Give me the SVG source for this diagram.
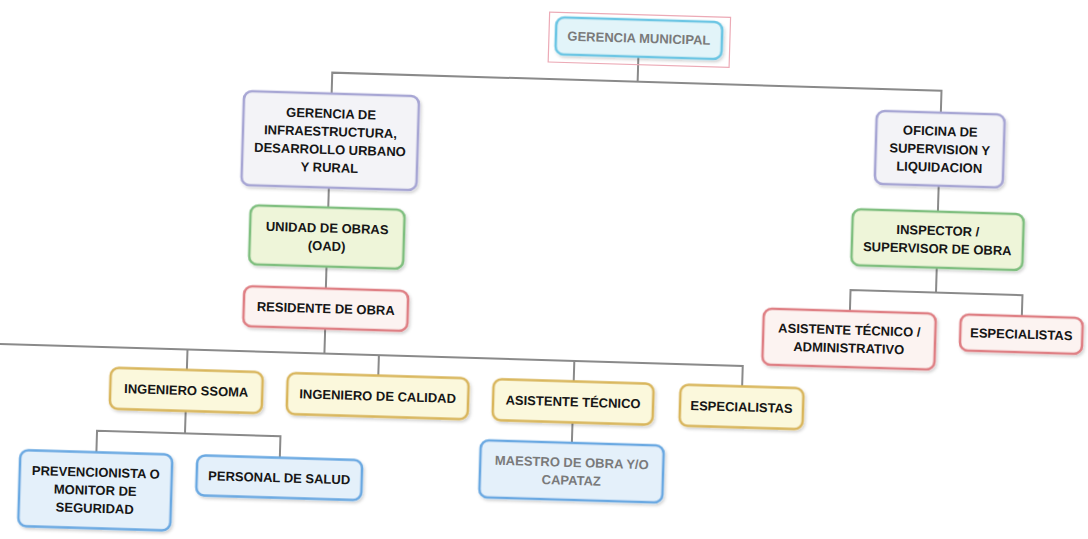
<svg xmlns="http://www.w3.org/2000/svg" width="1088" height="539" viewBox="0 0 1088 539">
<defs>
<filter id="sh" x="-10%" y="-10%" width="125%" height="135%">
<feDropShadow dx="1.5" dy="2" stdDeviation="1.5" flood-color="#000" flood-opacity="0.18"/>
</filter>
</defs>
<style>
.box{stroke-width:2.6;filter:url(#sh)}
.lav{fill:#f3f3f7;stroke:#a7a6d4}
.cyan{fill:#e2f4f9;stroke:#6cc6e4}
.grn{fill:#eef5d9;stroke:#7fbf7f}
.red{fill:#fcf3f1;stroke:#df7f84}
.yel{fill:#fbf8dc;stroke:#d9b65c}
.blu{fill:#e4f0fa;stroke:#6aa9e2}
text{font-family:"Liberation Sans",Arial,sans-serif;font-size:13px;font-weight:bold;fill:#161616;text-anchor:middle;dominant-baseline:central}
.fade{fill:#7a7a7a}
.con{fill:none;stroke:#8a8a8a;stroke-width:2}
</style>
<rect width="1088" height="539" fill="#ffffff"/>
<g transform="rotate(1.7 544 270)">
<g id="connectors">
<path class="con" d="M632 54V79"/>
<path class="con" d="M326.5 100V79H936V101"/>
<path class="con" d="M326.5 194V214"/>
<path class="con" d="M326.5 273V295"/>
<path class="con" d="M-30 360H745.5V380.5"/>
<path class="con" d="M327 335V360"/>
<path class="con" d="M190 360V380.5"/>
<path class="con" d="M381.5 360V380.5"/>
<path class="con" d="M577 360V380.5"/>
<path class="con" d="M190 421.5V444"/>
<path class="con" d="M102 465.5V444H285.5V465.5"/>
<path class="con" d="M577 421.5V442"/>
<path class="con" d="M936 174V200"/>
<path class="con" d="M936.5 256V281"/>
<path class="con" d="M851 302V281H1023V302"/>
</g>
<g id="gerencia-municipal">
<rect x="542" y="12" width="181" height="50" fill="none" stroke="#ecaab6" stroke-width="1.2"/>
<rect class="box cyan" x="549" y="17" width="166" height="37" rx="8"/>
<text class="fade" x="632" y="35.5">GERENCIA MUNICIPAL</text>
</g>
<g id="gerencia-infraestructura">
<rect class="box lav" x="239" y="100" width="175" height="94" rx="8"/>
<text x="326.5" y="120">GERENCIA DE</text>
<text x="326.5" y="138">INFRAESTRUCTURA,</text>
<text x="326.5" y="156">DESARROLLO URBANO</text>
<text x="326.5" y="174">Y RURAL</text>
</g>
<g id="oficina-supervision">
<rect class="box lav" x="872" y="101" width="128" height="73" rx="8"/>
<text x="936" y="119.5">OFICINA DE</text>
<text x="936" y="137.5">SUPERVISION Y</text>
<text x="936" y="155.5">LIQUIDACION</text>
</g>
<g id="unidad-obras">
<rect class="box grn" x="249" y="214" width="154" height="59" rx="8"/>
<text x="326" y="234.5">UNIDAD DE OBRAS</text>
<text x="326" y="252.5">(OAD)</text>
</g>
<g id="residente-obra">
<rect class="box red" x="245" y="295" width="164" height="40" rx="8"/>
<text x="327" y="315">RESIDENTE DE OBRA</text>
</g>
<g id="inspector">
<rect class="box grn" x="851" y="200" width="171" height="56" rx="8"/>
<text x="936.5" y="219">INSPECTOR /</text>
<text x="936.5" y="237">SUPERVISOR DE OBRA</text>
</g>
<g id="asistente-administrativo">
<rect class="box red" x="765" y="302" width="172" height="56" rx="8"/>
<text x="851" y="321">ASISTENTE TÉCNICO /</text>
<text x="851" y="339">ADMINISTRATIVO</text>
</g>
<g id="especialistas-supervision">
<rect class="box red" x="962" y="302" width="122" height="36" rx="8"/>
<text x="1023" y="320">ESPECIALISTAS</text>
</g>
<g id="ingeniero-ssoma">
<rect class="box yel" x="114" y="380.5" width="152" height="41" rx="8"/>
<text x="190" y="401">INGENIERO SSOMA</text>
</g>
<g id="ingeniero-calidad">
<rect class="box yel" x="291" y="380.5" width="181" height="41" rx="8"/>
<text x="381.5" y="401">INGENIERO DE CALIDAD</text>
</g>
<g id="asistente-tecnico">
<rect class="box yel" x="497" y="380.5" width="160" height="41" rx="8"/>
<text x="577" y="401">ASISTENTE TÉCNICO</text>
</g>
<g id="especialistas-obra">
<rect class="box yel" x="684" y="380.5" width="123" height="41" rx="8"/>
<text x="745.5" y="401">ESPECIALISTAS</text>
</g>
<g id="prevencionista">
<rect class="box blu" x="26" y="465.5" width="152" height="76" rx="8"/>
<text x="102" y="485.5">PREVENCIONISTA O</text>
<text x="102" y="503.5">MONITOR DE</text>
<text x="102" y="521.5">SEGURIDAD</text>
</g>
<g id="personal-salud">
<rect class="box blu" x="203" y="465.5" width="165" height="40" rx="8"/>
<text x="285.5" y="485.5">PERSONAL DE SALUD</text>
</g>
<g id="maestro-obra">
<rect class="box blu" x="486" y="442" width="183" height="57" rx="8"/>
<text class="fade" x="577.5" y="461.5">MAESTRO DE OBRA Y/O</text>
<text class="fade" x="577.5" y="479.5">CAPATAZ</text>
</g>
</g>
</svg>
